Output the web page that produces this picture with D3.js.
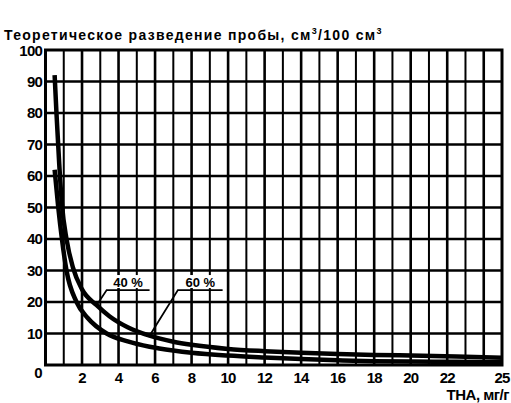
<!DOCTYPE html>
<html>
<head>
<meta charset="utf-8">
<script src="https://d3js.org/d3.v7.min.js"></script>
<style>
body, html {
    margin: 0;
    padding: 0;
    background: #fff;
    font-family: "Liberation Sans", Arial, sans-serif;
}
.grid line { stroke: #000; }
.tick-label { font-weight: bold; font-size: 15px; fill: #000; }
.curve { fill: none; stroke: #000; stroke-width: 4.5px; stroke-linejoin: round; }
</style>
</head>
<body>
<div id="chart"></div>
<script>

// значения
var xTicks = [2, 4, 6, 8, 10, 12, 14, 16, 18, 20, 22, 25];
var yTicks = [10, 20, 30, 40, 50, 60, 70, 80, 90, 100];

// кривая 40 % (верхняя)
var curve40 = [
  [0.5, 92], [0.6, 80], [0.75, 64], [0.9, 51], [1.15, 40], [1.5, 31],
  [2, 24], [2.8, 19], [3.5, 15.5], [4.5, 12], [5.7, 9.3], [7, 7.4],
  [8, 6.4], [10, 5.1], [12, 4.4], [14, 3.9], [16, 3.5], [18, 3.2],
  [20, 3], [22.5, 2.7], [25, 2.3]
];
// кривая 60 % (нижняя)
var curve60 = [
  [0.5, 62], [0.7, 50], [0.9, 40], [1.15, 30], [1.7, 20], [2.3, 15],
  [3.35, 10], [4.5, 7.5], [5.7, 5.8], [7, 4.6], [8, 3.9], [10, 3],
  [12, 2.4], [14, 1.9], [16, 1.5], [18, 1.2], [20, 1.1], [22.5, 1], [25, 0.9]
];

// подписи кривых: [текст, начало подчёркивания, конец подчёркивания, точка на кривой]
var labels = [
  ["40 %", [3.35, 23.8], [5.7, 23.8], [2.8, 19]],
  ["60 %", [7.25, 23.8], [9.7, 23.8], [5.7, 9.3]]
];

var width = 511, height = 403;
var svg = d3.select('#chart').append('svg')
  .attr('width', width)
  .attr('height', height);

var x = d3.scaleLinear().domain([0, 25]).range([45.5, 502]);
var y = d3.scaleLinear().domain([0, 100]).range([365, 50]);

// заголовок оси Y
var title = svg.append('text')
  .attr('x', 4)
  .attr('y', 40)
  .attr('font-weight', 'bold')
  .attr('font-size', 14)
  .attr('letter-spacing', '1.3');
title.append('tspan').text('Теоретическое разведение пробы, см');
title.append('tspan').attr('font-size', 9).attr('dy', -6).text('3');
title.append('tspan').attr('dy', 6).text('/100 см');
title.append('tspan').attr('font-size', 9).attr('dy', -6).text('3');

// сетка
var grid = svg.append('g').attr('class', 'grid');
grid.selectAll('line.v')
  .data(d3.range(1, 25))
  .enter().append('line')
  .attr('class', 'v')
  .attr('x1', d => x(d)).attr('x2', d => x(d))
  .attr('y1', y(100)).attr('y2', y(0))
  .style('stroke-width', d => d % 2 === 0 ? 2.6 : 2);
grid.selectAll('line.h')
  .data(d3.range(10, 100, 10))
  .enter().append('line')
  .attr('class', 'h')
  .attr('x1', x(0)).attr('x2', x(25))
  .attr('y1', d => y(d)).attr('y2', d => y(d))
  .style('stroke-width', 2.6);
svg.append('rect')
  .attr('x', x(0)).attr('y', y(100))
  .attr('width', x(25) - x(0)).attr('height', y(0) - y(100))
  .attr('fill', 'none').attr('stroke', '#000').attr('stroke-width', 3);

// подписи делений
svg.selectAll('text.ytick')
  .data(yTicks)
  .enter().append('text')
  .attr('class', 'tick-label ytick')
  .attr('x', 42)
  .attr('y', d => y(d) + (d === 100 ? 1 : 0))
  .attr('dy', '0.36em')
  .attr('text-anchor', 'end')
  .attr('letter-spacing', '-0.8')
  .text(d => d);
svg.append('text')
  .attr('class', 'tick-label')
  .attr('x', 38.5).attr('y', 378)
  .attr('text-anchor', 'middle')
  .text('0');
svg.selectAll('text.xtick')
  .data(xTicks)
  .enter().append('text')
  .attr('class', 'tick-label xtick')
  .attr('x', d => x(d))
  .attr('y', 383)
  .attr('text-anchor', 'middle')
  .attr('letter-spacing', '-0.8')
  .text(d => d);
svg.append('text')
  .attr('class', 'tick-label')
  .attr('x', 509).attr('y', 400)
  .attr('text-anchor', 'end')
  .attr('font-size', 13)
  .attr('letter-spacing', '-0.5')
  .text('ТНА, мг/г');

// кривые
var line = d3.line()
  .x(d => x(d[0]))
  .y(d => y(d[1]))
  .curve(d3.curveMonotoneX);
svg.append('path').datum(curve40).attr('class', 'curve').attr('d', line);
svg.append('path').datum(curve60).attr('class', 'curve').attr('d', line);

// выноски
labels.forEach(function (l) {
  svg.append('path')
    .attr('d', d3.line()([[x(l[2][0]), y(l[2][1])], [x(l[1][0]), y(l[1][1])], [x(l[3][0]), y(l[3][1])]]))
    .attr('fill', 'none')
    .attr('stroke', '#000')
    .attr('stroke-width', 1.8);
  svg.append('rect')
    .attr('x', (x(l[1][0]) + x(l[2][0])) / 2 - 21)
    .attr('y', y(l[1][1]) - 15)
    .attr('width', 42).attr('height', 13)
    .attr('fill', '#fff');
  svg.append('text')
    .attr('x', (x(l[1][0]) + x(l[2][0])) / 2)
    .attr('y', y(l[1][1]) - 3)
    .attr('text-anchor', 'middle')
    .attr('font-weight', 'bold')
    .attr('font-size', 13)
    .text(l[0]);
});

</script>
</body>
</html>
